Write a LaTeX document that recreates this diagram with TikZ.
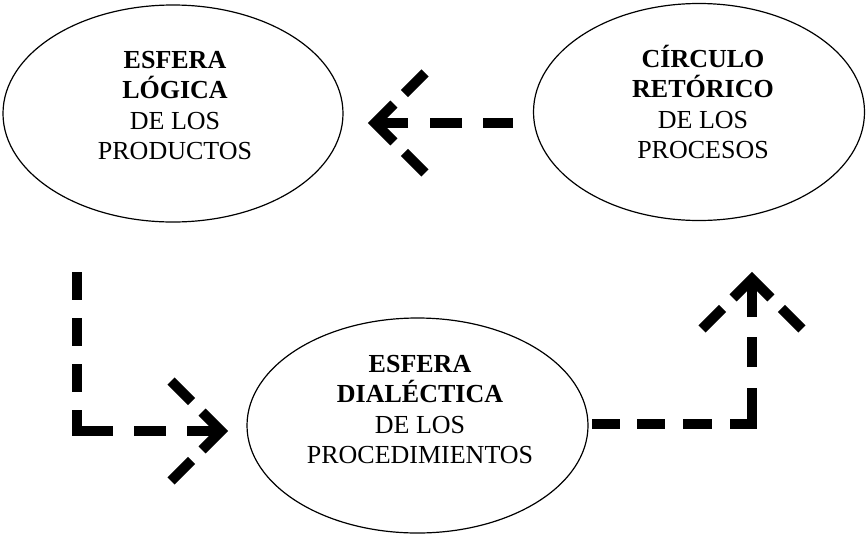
\documentclass[tikz,border=0pt]{standalone}
\usepackage{fontspec}
\setmainfont{Liberation Serif}
\usetikzlibrary{shapes.geometric}
\begin{document}
\begin{tikzpicture}[x=1pt,y=-1pt,
  oval/.style={draw, ellipse, line width=1.2pt, inner sep=0pt},
  lbl/.style={align=center, font=\fontsize{26}{30.5}\selectfont, inner sep=0pt},
  flow/.style={line width=10pt, line cap=butt, line join=miter},
  headarms/.style={flow, dash pattern=on 29pt off 15pt on 53.4pt off 15pt on 29pt}]
\fill[white] (0,0) rectangle (866,536);
\useasboundingbox (0,0) rectangle (866,536);
% ellipses
\node[oval, minimum width=340pt, minimum height=217pt] (e1) at (173,113.5) {};
\node[oval, minimum width=331pt, minimum height=217pt] (e2) at (699,112) {};
\node[oval, minimum width=341pt, minimum height=215pt] (e3) at (417.5,425.5) {};
% texts
\node[lbl] (t1) at (175,103) {\vphantom{Í}\textbf{ESFERA}\\\textbf{LÓGICA}\\DE LOS\\PRODUCTOS};
\node[lbl] (t2) at (703,102) {\textbf{CÍRCULO}\\\textbf{RETÓRICO}\\DE LOS\\PROCESOS};
\node[lbl] (t3) at (420,407) {\vphantom{Í}\textbf{ESFERA}\\\textbf{DIALÉCTICA}\\DE LOS\\PROCEDIMIENTOS};
% connector: circulo -> esfera logica
\coordinate (a1s) at (513,123);
\coordinate (a1v) at (375,123);
\coordinate (a1u) at (425,73);
\coordinate (a1d) at (425,173);
\draw[flow, dash pattern=on 30pt off 21pt on 32pt off 22pt on 40pt] (a1s) -- (a1v);
\draw[headarms] (a1u) -- (a1v) -- (a1d);
% connector: esfera logica -> esfera dialectica
\coordinate (a2s) at (77,272);
\coordinate (a2v) at (221,431);
\coordinate (a2u) at (171,381);
\coordinate (a2d) at (171,481);
\draw[flow, dash pattern=on 28pt off 18pt on 28pt off 18pt on 28pt off 18pt on 57pt off 21pt on 32pt off 21pt on 45pt] (a2s) |- (a2v);
\draw[headarms] (a2u) -- (a2v) -- (a2d);
% connector: esfera dialectica -> circulo retorico
\coordinate (a3s) at (592,424);
\coordinate (a3v) at (752,279);
\coordinate (a3l) at (702,329);
\coordinate (a3r) at (802,329);
\draw[flow, dash pattern=on 28pt off 17pt on 28pt off 18pt on 29pt off 18pt on 58pt off 21pt on 30pt off 20pt on 45pt] (a3s) -| (a3v);
\draw[headarms] (a3l) -- (a3v) -- (a3r);
\end{tikzpicture}
\end{document}
